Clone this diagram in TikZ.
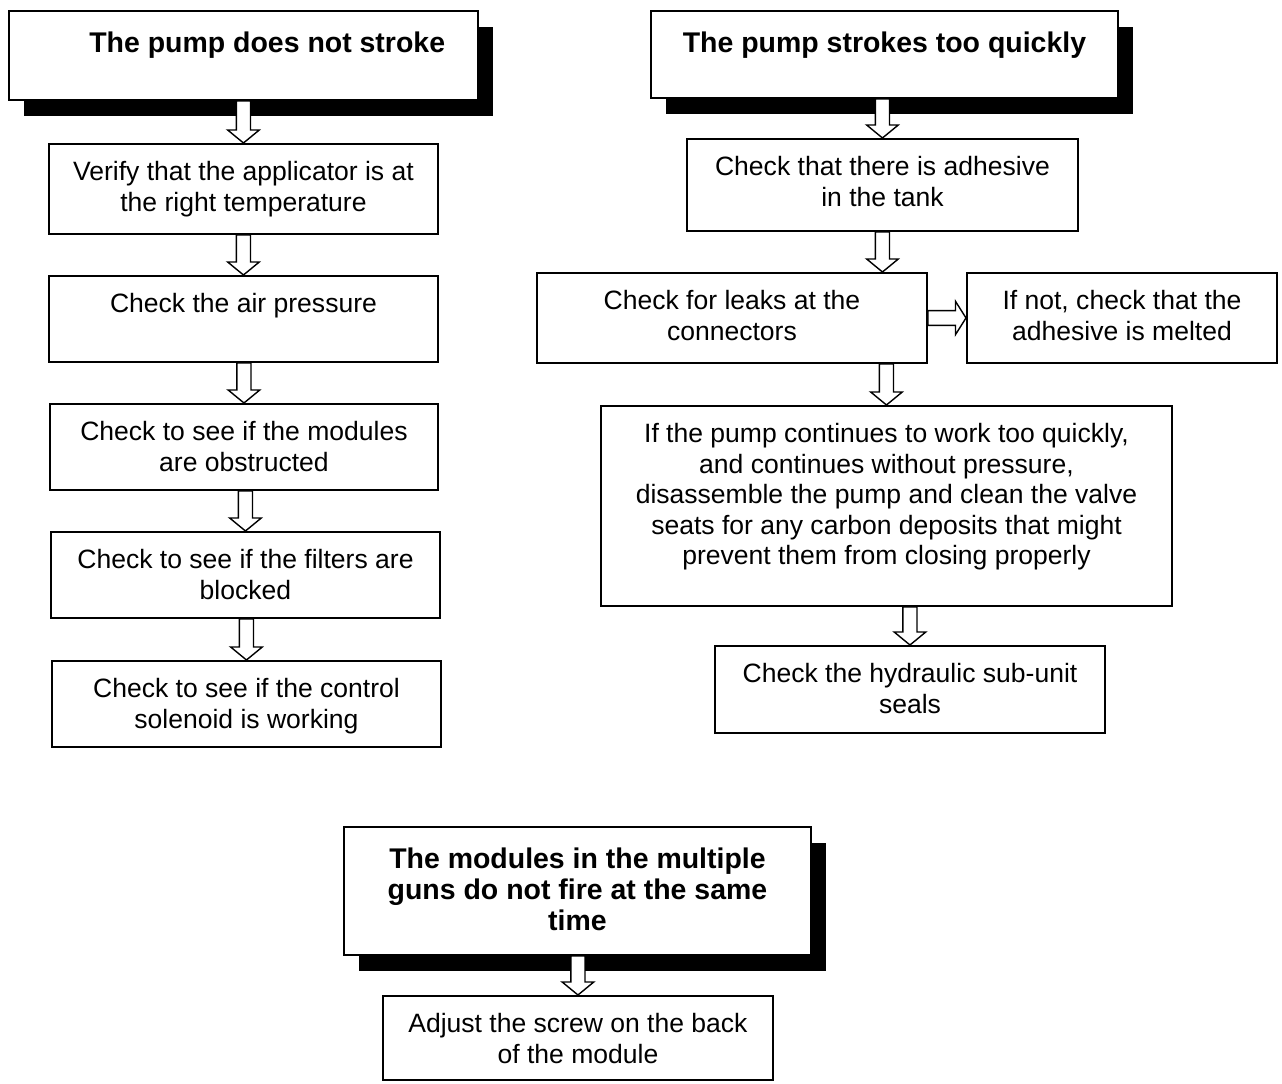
\documentclass[tikz,border=0pt]{standalone}
\usepackage{fontspec}
\setmainfont{Liberation Sans}
\usetikzlibrary{calc,shadows}

\newlength{\pxu}
\setlength{\pxu}{0.02cm}
\newcommand{\stepfont}{\fontsize{15.1pt}{17.3pt}\selectfont}
\newcommand{\headfont}{\fontsize{16.2pt}{17.7pt}\selectfont\bfseries}
% box text: width, height (px), first baseline, lines
\newcommand{\boxcell}[4]{\parbox[c][#2\pxu][t]{#1\pxu}{\centering\rule{0pt}{#3}#4}}

% hollow block arrows between boxes
\newcommand{\downflow}[3]{%
  \filldraw[flow] let \p1=(#1.south), \p2=(#2.north), \p3=(#3.center) in
    (\x3-4pt,\y1) -- (\x3-4pt,\y2+7.4pt) -- (\x3-9pt,\y2+7.4pt) -- (\x3,\y2)
    -- (\x3+9pt,\y2+7.4pt) -- (\x3+4pt,\y2+7.4pt) -- (\x3+4pt,\y1) -- cycle;}
\newcommand{\sideflow}[2]{%
  \filldraw[flow] let \p1=(#1.east), \p2=(#2.west) in
    (\x1,\y1+4.2pt) -- (\x2-6pt,\y1+4.2pt) -- (\x2-6pt,\y1+9.5pt) -- (\x2,\y1)
    -- (\x2-6pt,\y1-9.5pt) -- (\x2-6pt,\y1-4.2pt) -- (\x1,\y1-4.2pt) -- cycle;}

\tikzset{
  stepbox/.style={draw, line width=1.1pt, inner sep=0pt, anchor=north west, fill=white, font=\stepfont},
  headbox/.style={stepbox, font=\headfont,
    drop shadow={shadow xshift=0.3cm, shadow yshift=-0.32cm, opacity=1, fill=black}},
  flow/.style={draw=black, fill=white, line width=0.8pt, line join=miter}
}

\begin{document}
\begin{tikzpicture}[x=0.02cm, y=-0.02cm]
\useasboundingbox (0,0) rectangle (1282,1084);

% The pump does not stroke
\node[headbox] (nostroke) at (8,10) {\boxcell{469}{89}{23.5pt}{\hspace*{27pt}The pump does not stroke}};
\node[stepbox] (temp) at (48,143) {\boxcell{389}{90}{21pt}{Verify that the applicator is at\\the right temperature}};
\node[stepbox] (air) at (48,275) {\boxcell{389}{86}{21pt}{Check the air pressure}};
\node[stepbox] (modules) at (49,403) {\boxcell{388}{86}{21pt}{Check to see if the modules\\are obstructed}};
\node[stepbox] (filters) at (50,531) {\boxcell{389}{86}{21pt}{Check to see if the filters are\\blocked}};
\node[stepbox] (solenoid) at (51,660) {\boxcell{389}{86}{21pt}{Check to see if the control\\solenoid is working}};

\downflow{nostroke}{temp}{temp}
\downflow{temp}{air}{air}
\downflow{air}{modules}{modules}
\downflow{modules}{filters}{filters}
\downflow{filters}{solenoid}{solenoid}

% The pump strokes too quickly
\node[headbox] (quick) at (650,10) {\boxcell{467}{87}{23.5pt}{The pump strokes too quickly}};
\node[stepbox] (tank) at (686,138) {\boxcell{391}{92}{21pt}{Check that there is adhesive\\in the tank}};
\node[stepbox] (leaks) at (536,272) {\boxcell{390}{90}{21pt}{Check for leaks at the\\connectors}};
\node[stepbox] (melted) at (966,272) {\boxcell{310}{90}{21pt}{If not, check that the\\adhesive is melted}};
\node[stepbox] (valves) at (600,405) {\boxcell{571}{200}{21pt}{If the pump continues to work too quickly,\\and continues without pressure,\\disassemble the pump and clean the valve\\seats for any carbon deposits that might\\prevent them from closing properly}};
\node[stepbox] (seals) at (714,645) {\boxcell{390}{87}{21pt}{Check the hydraulic sub-unit\\seals}};

\downflow{quick}{tank}{tank}
\downflow{tank}{leaks}{tank}
\sideflow{leaks}{melted}
\downflow{leaks}{valves}{valves}
\downflow{valves}{seals}{seals}

% Multiple guns
\node[headbox] (guns) at (343,826) {\boxcell{467}{128}{23.5pt}{The modules in the multiple\\guns do not fire at the same\\time}};
\node[stepbox] (screw) at (382,995) {\boxcell{390}{84}{21pt}{Adjust the screw on the back\\of the module}};

\downflow{guns}{screw}{screw}

\end{tikzpicture}
\end{document}
